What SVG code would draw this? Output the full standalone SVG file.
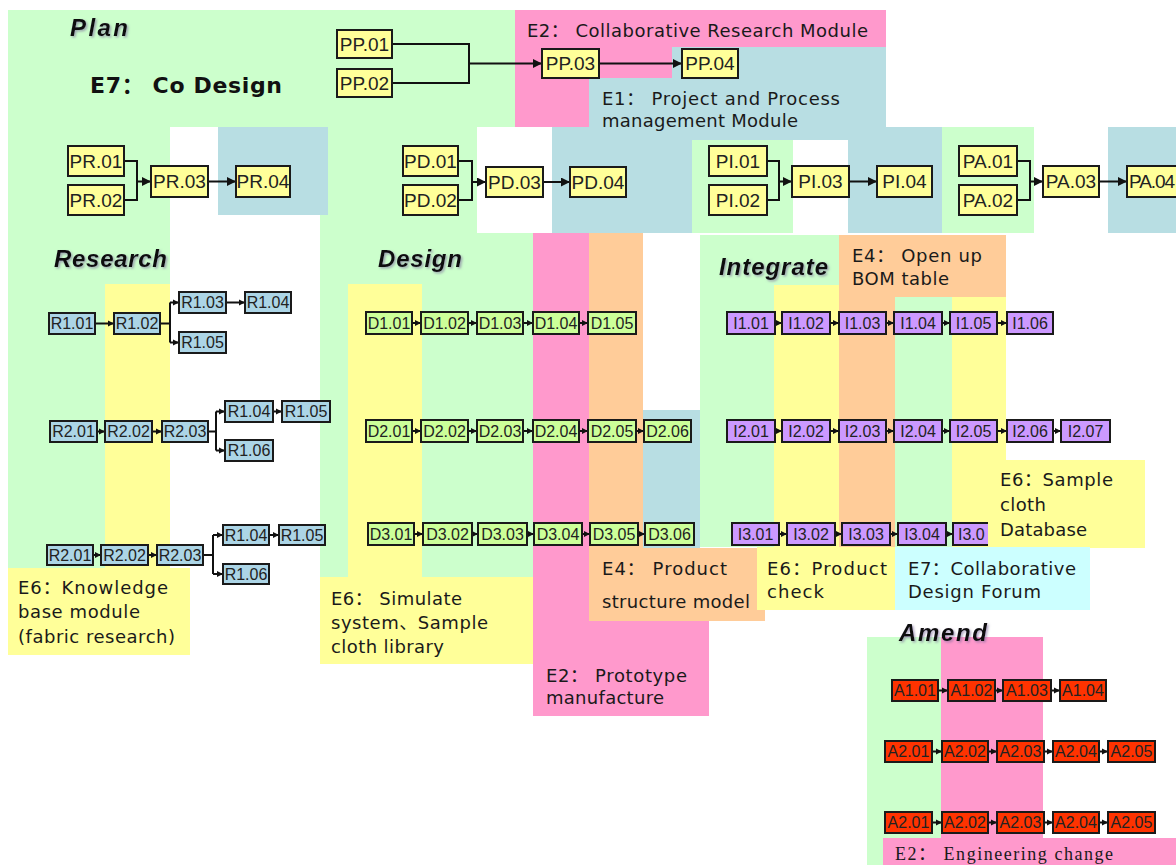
<svg xmlns="http://www.w3.org/2000/svg" width="1176" height="865" viewBox="0 0 1176 865">
<defs>
<style>
.g{fill:#ccffcc}.p{fill:#ff99cc}.b{fill:#b8dee3}.y{fill:#ffff99}.o{fill:#ffcc99}.c{fill:#ccffff}.w{fill:#ffffff}
.n rect,.n path{stroke:#1a1a1a;stroke-width:2}
.ny rect{fill:#ffff99}.nr rect{fill:#acd5e6}.nd rect{fill:#ccff99}.ni rect,.ni path{fill:#cc99ff}.na rect{fill:#ff3300}
.n text{font-family:"Liberation Sans",Arial,sans-serif;text-anchor:middle;fill:#222}
.big text{font-size:19px}.sm text{font-size:16px}
.conn path{stroke:#111;stroke-width:2;fill:none}
.lbl{font-family:"DejaVu Sans","Noto Sans CJK SC",sans-serif;font-size:18px;fill:#1a1a1a}
.ttl{font-family:"Liberation Sans",Arial,sans-serif;font-weight:bold;font-style:italic;font-size:24px;fill:#111;filter:url(#sh)}
</style>
<filter id="sh" x="-10%" y="-20%" width="130%" height="150%"><feDropShadow dx="1.5" dy="1.5" stdDeviation="0.8" flood-color="#7a6a9a" flood-opacity="0.6"/></filter>
<marker id="ah" viewBox="0 0 10 10" refX="10" refY="5" markerWidth="10" markerHeight="9" markerUnits="userSpaceOnUse" orient="auto"><path d="M0,0 L10,5 L0,10 z" fill="#111"/></marker>
<marker id="as" viewBox="0 0 10 10" refX="10" refY="5" markerWidth="6" markerHeight="7" markerUnits="userSpaceOnUse" orient="auto"><path d="M0,0 L10,5 L0,10 z" fill="#111"/></marker>
</defs>
<rect width="1176" height="865" fill="#ffffff"/>
<g id="backgrounds">
<rect class="g" x="8" y="10" width="507" height="117"/>
<rect class="g" x="8" y="127" width="162" height="441"/>
<rect class="g" x="320" y="127" width="157" height="106"/>
<rect class="g" x="320" y="233" width="213" height="344"/>
<rect class="b" x="218" y="127" width="110" height="88"/>
<rect class="y" x="105" y="284" width="65" height="284"/>
<rect class="y" x="8" y="568" width="182" height="87"/>
<rect class="y" x="348" y="284" width="74" height="293"/>
<rect class="y" x="320" y="577" width="213" height="87"/>
<rect class="p" x="515" y="10" width="371" height="117"/>
<path class="b" d="M672,47 H886 V127 H589 V78 H672 Z"/>
<rect class="b" x="552" y="127" width="390" height="106"/>
<rect class="g" x="692" y="140" width="101" height="93"/>
<rect class="w" x="793" y="140" width="55" height="93"/>
<rect class="g" x="942" y="127" width="92" height="106"/>
<rect class="b" x="1108" y="127" width="68" height="106"/>
<rect class="p" x="533" y="233" width="56" height="315"/>
<rect class="p" x="533" y="548" width="176" height="168"/>
<rect class="o" x="589" y="233" width="54" height="315"/>
<rect class="o" x="589" y="548" width="176" height="73"/>
<rect class="b" x="643" y="410" width="57" height="138"/>
<rect class="g" x="700" y="235" width="139" height="50"/>
<rect class="g" x="700" y="285" width="74" height="262"/>
<rect class="y" x="774" y="285" width="65" height="262"/>
<rect class="o" x="839" y="235" width="167" height="62"/>
<rect class="o" x="839" y="297" width="56" height="250"/>
<rect class="g" x="895" y="297" width="57" height="250"/>
<rect class="y" x="952" y="297" width="54" height="163"/>
<rect class="y" x="952" y="460" width="193" height="88"/>
<rect class="y" x="757" y="547" width="138" height="63"/>
<rect class="c" x="895" y="547" width="195" height="63"/>
<rect class="g" x="867" y="637" width="74" height="228"/>
<rect class="p" x="941" y="637" width="102" height="201"/>
<rect class="p" x="883" y="838" width="293" height="27"/>
</g>
<g id="labels">
<text class="ttl" x="70" y="36" font-size="27" textLength="58">Plan</text>
<text x="90" y="93" font-family="'DejaVu Sans','Noto Sans CJK SC',sans-serif" font-weight="bold" font-size="22" fill="#111" textLength="192">E7： Co Design</text>
<text class="lbl" x="527" y="37" textLength="341">E2： Collaborative Research Module</text>
<text class="lbl" x="602" y="105" textLength="238">E1： Project and Process</text>
<text class="lbl" x="602" y="127" textLength="196">management Module</text>
<text class="ttl" x="54" y="267" textLength="113">Research</text>
<text class="ttl" x="378" y="267" textLength="84">Design</text>
<text class="ttl" x="719" y="275" textLength="109">Integrate</text>
<text class="ttl" x="899" y="641" textLength="88">Amend</text>
<text class="lbl" x="852" y="262" textLength="130">E4： Open up</text>
<text class="lbl" x="852" y="285" textLength="97">BOM table</text>
<text class="lbl" x="18" y="594" textLength="150">E6：Knowledge</text>
<text class="lbl" x="18" y="618" textLength="122">base module</text>
<text class="lbl" x="18" y="643" textLength="157">(fabric research)</text>
<text class="lbl" x="331" y="605" textLength="131">E6： Simulate</text>
<text class="lbl" x="331" y="629" textLength="157">system、Sample</text>
<text class="lbl" x="331" y="653" textLength="113">cloth library</text>
<text class="lbl" x="602" y="575" textLength="125">E4： Product</text>
<text class="lbl" x="602" y="608" textLength="148">structure model</text>
<text class="lbl" x="546" y="682" textLength="141">E2： Prototype</text>
<text class="lbl" x="546" y="704" textLength="118">manufacture</text>
<text class="lbl" x="1000" y="486" textLength="113">E6：Sample</text>
<text class="lbl" x="1000" y="511" textLength="46">cloth</text>
<text class="lbl" x="1000" y="536" textLength="87">Database</text>
<text class="lbl" x="767" y="575" textLength="120">E6：Product</text>
<text class="lbl" x="767" y="598" textLength="57">check</text>
<text class="lbl" x="908" y="575" textLength="168">E7：Collaborative</text>
<text class="lbl" x="908" y="598" textLength="133">Design Forum</text>
<text x="895" y="860" font-family="'Liberation Serif','Noto Sans CJK SC',serif" font-size="18" fill="#1a1a1a" textLength="218">E2： Engineering change</text>
</g>
<g id="connectors" class="conn">
<path d="M392,44 H469 V83 H392"/><path d="M469,63.5 H542" marker-end="url(#ah)"/>
<path d="M599,63.5 H682" marker-end="url(#ah)"/>
<path d="M124,161 H137 V200 H124"/><path d="M137,181.5 H151" marker-end="url(#ah)"/><path d="M208,181.5 H236" marker-end="url(#ah)"/>
<path d="M458,161 H472 V200 H458"/><path d="M472,182 H486" marker-end="url(#ah)"/><path d="M543,182 H570" marker-end="url(#ah)"/>
<path d="M767,161 H779 V200 H767"/><path d="M779,181.5 H792" marker-end="url(#ah)"/><path d="M849,181.5 H877" marker-end="url(#ah)"/>
<path d="M1017,161 H1030 V200 H1017"/><path d="M1030,181.5 H1043" marker-end="url(#ah)"/><path d="M1099,181.5 H1127" marker-end="url(#ah)"/>
<path d="M95,323.5 H114" marker-end="url(#as)"/><path d="M160,323.5 H170 M170,302.5 V342.5"/><path d="M170,302.5 H179" marker-end="url(#as)"/><path d="M170,342.5 H179" marker-end="url(#as)"/><path d="M226,302.5 H245" marker-end="url(#as)"/>
<path d="M97,431.5 H105" marker-end="url(#as)"/><path d="M152,431.5 H162" marker-end="url(#as)"/><path d="M208,431.5 H216 M216,411.5 V450.5"/><path d="M216,411.5 H225" marker-end="url(#as)"/><path d="M216,450.5 H225" marker-end="url(#as)"/><path d="M273,411.5 H282" marker-end="url(#as)"/>
<path d="M93,555 H101" marker-end="url(#as)"/><path d="M148,555 H157" marker-end="url(#as)"/><path d="M203,555 H213 M213,535 V574"/><path d="M213,535 H223" marker-end="url(#as)"/><path d="M213,574 H223" marker-end="url(#as)"/><path d="M269,535 H279" marker-end="url(#as)"/>
<path d="M412,323 H421" marker-end="url(#as)"/><path d="M468,323 H477" marker-end="url(#as)"/><path d="M523,323 H533" marker-end="url(#as)"/><path d="M579,323 H588" marker-end="url(#as)"/>
<path d="M412,431 H421" marker-end="url(#as)"/><path d="M468,431 H477" marker-end="url(#as)"/><path d="M523,431 H533" marker-end="url(#as)"/><path d="M579,431 H588" marker-end="url(#as)"/><path d="M636,431 H644" marker-end="url(#as)"/>
<path d="M414,534 H423" marker-end="url(#as)"/><path d="M472,534 H478" marker-end="url(#as)"/><path d="M527,534 H534" marker-end="url(#as)"/><path d="M582,534 H590" marker-end="url(#as)"/><path d="M638,534 H645" marker-end="url(#as)"/>
<path d="M775,323 H782" marker-end="url(#as)"/><path d="M830,323 H839" marker-end="url(#as)"/><path d="M886,323 H894" marker-end="url(#as)"/><path d="M942,323 H950" marker-end="url(#as)"/><path d="M997,323 H1007" marker-end="url(#as)"/>
<path d="M775,431 H782" marker-end="url(#as)"/><path d="M830,431 H839" marker-end="url(#as)"/><path d="M886,431 H894" marker-end="url(#as)"/><path d="M942,431 H950" marker-end="url(#as)"/><path d="M997,431 H1007" marker-end="url(#as)"/><path d="M1053,431 H1061" marker-end="url(#as)"/>
<path d="M779,534 H787" marker-end="url(#as)"/><path d="M835,534 H842" marker-end="url(#as)"/><path d="M890,534 H898" marker-end="url(#as)"/><path d="M946,534 H953" marker-end="url(#as)"/>
<path d="M938,690.5 H948" marker-end="url(#as)"/><path d="M995,690.5 H1003" marker-end="url(#as)"/><path d="M1051,690.5 H1060" marker-end="url(#as)"/>
<path d="M932,751.5 H942" marker-end="url(#as)"/><path d="M988,751.5 H997" marker-end="url(#as)"/><path d="M1044,751.5 H1053" marker-end="url(#as)"/><path d="M1099,751.5 H1108" marker-end="url(#as)"/>
<path d="M932,822.5 H942" marker-end="url(#as)"/><path d="M988,822.5 H997" marker-end="url(#as)"/><path d="M1044,822.5 H1053" marker-end="url(#as)"/><path d="M1099,822.5 H1108" marker-end="url(#as)"/>
</g>
<g id="PP01" class="n ny big"><rect x="337" y="30" width="55" height="28"/><text x="364.5" y="50.8">PP.01</text></g>
<g id="PP02" class="n ny big"><rect x="337" y="69" width="55" height="28"/><text x="364.5" y="89.8">PP.02</text></g>
<g id="PP03" class="n ny big"><rect x="542" y="49" width="57" height="29"/><text x="570.5" y="70.3">PP.03</text></g>
<g id="PP04" class="n ny big"><rect x="682" y="49" width="56" height="29"/><text x="710" y="70.3">PP.04</text></g>
<g id="PR01" class="n ny big"><rect x="68" y="146" width="56" height="30"/><text x="96" y="167.8">PR.01</text></g>
<g id="PR02" class="n ny big"><rect x="68" y="185" width="56" height="30"/><text x="96" y="206.8">PR.02</text></g>
<g id="PR03" class="n ny big"><rect x="151" y="166" width="57" height="31"/><text x="179.5" y="188.3">PR.03</text></g>
<g id="PR04" class="n ny big"><rect x="236" y="166" width="54" height="31"/><text x="263" y="188.3">PR.04</text></g>
<g id="PD01" class="n ny big"><rect x="403" y="146" width="55" height="30"/><text x="430.5" y="167.8">PD.01</text></g>
<g id="PD02" class="n ny big"><rect x="403" y="185" width="55" height="30"/><text x="430.5" y="206.8">PD.02</text></g>
<g id="PD03" class="n ny big"><rect x="486" y="167" width="57" height="30"/><text x="514.5" y="188.8">PD.03</text></g>
<g id="PD04" class="n ny big"><rect x="570" y="167" width="56" height="30"/><text x="598" y="188.8">PD.04</text></g>
<g id="PI01" class="n ny big"><rect x="709" y="146" width="58" height="30"/><text x="738" y="167.8">PI.01</text></g>
<g id="PI02" class="n ny big"><rect x="709" y="185" width="58" height="30"/><text x="738" y="206.8">PI.02</text></g>
<g id="PI03" class="n ny big"><rect x="792" y="166" width="57" height="31"/><text x="820.5" y="188.3">PI.03</text></g>
<g id="PI04" class="n ny big"><rect x="877" y="166" width="55" height="31"/><text x="904.5" y="188.3">PI.04</text></g>
<g id="PA01" class="n ny big"><rect x="959" y="146" width="58" height="30"/><text x="988" y="167.8">PA.01</text></g>
<g id="PA02" class="n ny big"><rect x="959" y="185" width="58" height="30"/><text x="988" y="206.8">PA.02</text></g>
<g id="PA03" class="n ny big"><rect x="1043" y="166" width="56" height="31"/><text x="1071" y="188.3">PA.03</text></g>
<g id="PA04" class="n ny big"><rect x="1127" y="166" width="58" height="31"/><text x="1129" y="188.3" style="text-anchor:start" textLength="46">PA.04</text></g>
<g id="R1-01" class="n nr sm"><rect x="49" y="313" width="46" height="21"/><text x="72" y="329.3">R1.01</text></g>
<g id="R1-02" class="n nr sm"><rect x="114" y="313" width="46" height="21"/><text x="137" y="329.3">R1.02</text></g>
<g id="R1-03" class="n nr sm"><rect x="179" y="292" width="47" height="21"/><text x="202.5" y="308.3">R1.03</text></g>
<g id="R1-04" class="n nr sm"><rect x="245" y="292" width="46" height="21"/><text x="268" y="308.3">R1.04</text></g>
<g id="R1-05" class="n nr sm"><rect x="179" y="332" width="47" height="21"/><text x="202.5" y="348.3">R1.05</text></g>
<g id="R2-01" class="n nr sm"><rect x="50" y="421" width="47" height="21"/><text x="73.5" y="437.3">R2.01</text></g>
<g id="R2-02" class="n nr sm"><rect x="105" y="421" width="47" height="21"/><text x="128.5" y="437.3">R2.02</text></g>
<g id="R2-03" class="n nr sm"><rect x="162" y="421" width="46" height="21"/><text x="185" y="437.3">R2.03</text></g>
<g id="R2-b-04" class="n nr sm"><rect x="225" y="401" width="48" height="21"/><text x="249" y="417.3">R1.04</text></g>
<g id="R2-b-05" class="n nr sm"><rect x="282" y="401" width="48" height="21"/><text x="306" y="417.3">R1.05</text></g>
<g id="R2-b-06" class="n nr sm"><rect x="225" y="440" width="48" height="21"/><text x="249" y="456.3">R1.06</text></g>
<g id="R3-01" class="n nr sm"><rect x="47" y="545" width="46" height="20"/><text x="70" y="560.8">R2.01</text></g>
<g id="R3-02" class="n nr sm"><rect x="101" y="545" width="47" height="20"/><text x="124.5" y="560.8">R2.02</text></g>
<g id="R3-03" class="n nr sm"><rect x="157" y="545" width="46" height="20"/><text x="180" y="560.8">R2.03</text></g>
<g id="R3-04" class="n nr sm"><rect x="223" y="525" width="46" height="20"/><text x="246" y="540.8">R1.04</text></g>
<g id="R3-05" class="n nr sm"><rect x="279" y="525" width="46" height="20"/><text x="302" y="540.8">R1.05</text></g>
<g id="R3-06" class="n nr sm"><rect x="223" y="564" width="46" height="20"/><text x="246" y="579.8">R1.06</text></g>
<g id="D1-01" class="n nd sm"><rect x="366" y="312" width="46" height="22"/><text x="389" y="328.8">D1.01</text></g>
<g id="D1-02" class="n nd sm"><rect x="421" y="312" width="47" height="22"/><text x="444.5" y="328.8">D1.02</text></g>
<g id="D1-03" class="n nd sm"><rect x="477" y="312" width="46" height="22"/><text x="500" y="328.8">D1.03</text></g>
<g id="D1-04" class="n nd sm"><rect x="533" y="312" width="46" height="22"/><text x="556" y="328.8">D1.04</text></g>
<g id="D1-05" class="n nd sm"><rect x="588" y="312" width="48" height="22"/><text x="612" y="328.8">D1.05</text></g>
<g id="D2-01" class="n nd sm"><rect x="366" y="420" width="46" height="22"/><text x="389" y="436.8">D2.01</text></g>
<g id="D2-02" class="n nd sm"><rect x="421" y="420" width="47" height="22"/><text x="444.5" y="436.8">D2.02</text></g>
<g id="D2-03" class="n nd sm"><rect x="477" y="420" width="46" height="22"/><text x="500" y="436.8">D2.03</text></g>
<g id="D2-04" class="n nd sm"><rect x="533" y="420" width="46" height="22"/><text x="556" y="436.8">D2.04</text></g>
<g id="D2-05" class="n nd sm"><rect x="588" y="420" width="48" height="22"/><text x="612" y="436.8">D2.05</text></g>
<g id="D2-06" class="n nd sm"><rect x="644" y="420" width="47" height="22"/><text x="667.5" y="436.8">D2.06</text></g>
<g id="D3-01" class="n nd sm"><rect x="368" y="523" width="46" height="22"/><text x="391" y="539.8">D3.01</text></g>
<g id="D3-02" class="n nd sm"><rect x="423" y="523" width="49" height="22"/><text x="447.5" y="539.8">D3.02</text></g>
<g id="D3-03" class="n nd sm"><rect x="478" y="523" width="49" height="22"/><text x="502.5" y="539.8">D3.03</text></g>
<g id="D3-04" class="n nd sm"><rect x="534" y="523" width="48" height="22"/><text x="558" y="539.8">D3.04</text></g>
<g id="D3-05" class="n nd sm"><rect x="590" y="523" width="48" height="22"/><text x="614" y="539.8">D3.05</text></g>
<g id="D3-06" class="n nd sm"><rect x="645" y="523" width="49" height="22"/><text x="669.5" y="539.8">D3.06</text></g>
<g id="I1-01" class="n ni sm"><rect x="727" y="312" width="48" height="22"/><text x="751" y="328.8">I1.01</text></g>
<g id="I1-02" class="n ni sm"><rect x="782" y="312" width="48" height="22"/><text x="806" y="328.8">I1.02</text></g>
<g id="I1-03" class="n ni sm"><rect x="839" y="312" width="47" height="22"/><text x="862.5" y="328.8">I1.03</text></g>
<g id="I1-04" class="n ni sm"><rect x="894" y="312" width="48" height="22"/><text x="918" y="328.8">I1.04</text></g>
<g id="I1-05" class="n ni sm"><rect x="950" y="312" width="47" height="22"/><text x="973.5" y="328.8">I1.05</text></g>
<g id="I1-06" class="n ni sm"><rect x="1007" y="312" width="46" height="22"/><text x="1030" y="328.8">I1.06</text></g>
<g id="I2-01" class="n ni sm"><rect x="727" y="420" width="48" height="22"/><text x="751" y="436.8">I2.01</text></g>
<g id="I2-02" class="n ni sm"><rect x="782" y="420" width="48" height="22"/><text x="806" y="436.8">I2.02</text></g>
<g id="I2-03" class="n ni sm"><rect x="839" y="420" width="47" height="22"/><text x="862.5" y="436.8">I2.03</text></g>
<g id="I2-04" class="n ni sm"><rect x="894" y="420" width="48" height="22"/><text x="918" y="436.8">I2.04</text></g>
<g id="I2-05" class="n ni sm"><rect x="950" y="420" width="47" height="22"/><text x="973.5" y="436.8">I2.05</text></g>
<g id="I2-06" class="n ni sm"><rect x="1007" y="420" width="46" height="22"/><text x="1030" y="436.8">I2.06</text></g>
<g id="I2-07" class="n ni sm"><rect x="1061" y="420" width="49" height="22"/><text x="1085.5" y="436.8">I2.07</text></g>
<g id="I3-01" class="n ni sm"><rect x="732" y="523" width="47" height="22"/><text x="755.5" y="539.8">I3.01</text></g>
<g id="I3-02" class="n ni sm"><rect x="787" y="523" width="48" height="22"/><text x="811" y="539.8">I3.02</text></g>
<g id="I3-03" class="n ni sm"><rect x="842" y="523" width="48" height="22"/><text x="866" y="539.8">I3.03</text></g>
<g id="I3-04" class="n ni sm"><rect x="898" y="523" width="48" height="22"/><text x="922" y="539.8">I3.04</text></g>
<g id="I3-05" class="n ni sm"><path d="M988,523 H953 V545 H988"/><text x="958" y="539.8" style="text-anchor:start">I3.0</text></g>
<g id="A1-01" class="n na sm"><rect x="892" y="680" width="46" height="21"/><text x="915" y="696.3">A1.01</text></g>
<g id="A1-02" class="n na sm"><rect x="948" y="680" width="47" height="21"/><text x="971.5" y="696.3">A1.02</text></g>
<g id="A1-03" class="n na sm"><rect x="1003" y="680" width="48" height="21"/><text x="1027" y="696.3">A1.03</text></g>
<g id="A1-04" class="n na sm"><rect x="1060" y="680" width="46" height="21"/><text x="1083" y="696.3">A1.04</text></g>
<g id="A2-01" class="n na sm"><rect x="885" y="741" width="47" height="21"/><text x="908.5" y="757.3">A2.01</text></g>
<g id="A2-02" class="n na sm"><rect x="942" y="741" width="46" height="21"/><text x="965" y="757.3">A2.02</text></g>
<g id="A2-03" class="n na sm"><rect x="997" y="741" width="47" height="21"/><text x="1020.5" y="757.3">A2.03</text></g>
<g id="A2-04" class="n na sm"><rect x="1053" y="741" width="46" height="21"/><text x="1076" y="757.3">A2.04</text></g>
<g id="A2-05" class="n na sm"><rect x="1108" y="741" width="47" height="21"/><text x="1131.5" y="757.3">A2.05</text></g>
<g id="A3-01" class="n na sm"><rect x="885" y="812" width="47" height="21"/><text x="908.5" y="828.3">A2.01</text></g>
<g id="A3-02" class="n na sm"><rect x="942" y="812" width="46" height="21"/><text x="965" y="828.3">A2.02</text></g>
<g id="A3-03" class="n na sm"><rect x="997" y="812" width="47" height="21"/><text x="1020.5" y="828.3">A2.03</text></g>
<g id="A3-04" class="n na sm"><rect x="1053" y="812" width="46" height="21"/><text x="1076" y="828.3">A2.04</text></g>
<g id="A3-05" class="n na sm"><rect x="1108" y="812" width="47" height="21"/><text x="1131.5" y="828.3">A2.05</text></g>
</svg>
